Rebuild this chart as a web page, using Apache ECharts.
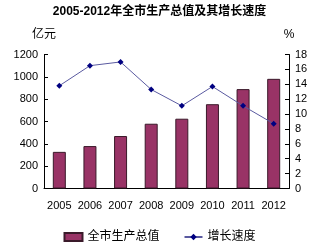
<!DOCTYPE html>
<html><head><meta charset="utf-8">
<script src="https://cdn.jsdelivr.net/npm/echarts@6/dist/echarts.min.js"></script>
<style>html,body{margin:0;padding:0;background:#fff}#c{width:319px;height:251px}</style>
</head><body><div id="c"></div>
<script>
const categories = ['2005','2006','2007','2008','2009','2010','2011','2012'];
const gdpValues = [328, 380, 470, 580, 625, 755, 890, 982];
const growthValues = [13.8, 16.5, 17.0, 13.3, 11.1, 13.7, 11.1, 8.7];
const leftTicks = [0, 1200, 200];
const rightTicks = [0, 18, 2];

const chart = echarts.init(document.getElementById('c'));
const font = 'Arial, "Noto Sans CJK SC", sans-serif';
chart.setOption({
  animation: false,
  textStyle: {fontFamily: font},
  title: {text: '2005-2012年全市生产总值及其增长速度', left: 'center', top: 1,
    textStyle: {fontSize: 12, fontWeight: 'bold', color: '#000', fontFamily: font}},
  grid: {left: 44, right: 30, top: 54.5, bottom: 62.5},
  legend: {bottom: 3, left: 'center', itemGap: 24, itemWidth: 18, itemHeight: 8,
    textStyle: {fontSize: 12, color: '#000', fontFamily: font},
    data: [{name: '全市生产总值', icon: 'rect'}, {name: '增长速度'}]},
  xAxis: {type: 'category', data: categories,
    axisLine: {lineStyle: {color: '#000'}},
    axisTick: {inside: true, length: 3, lineStyle: {color: '#000'}},
    axisLabel: {color: '#000', fontSize: 11, margin: 12, interval: 0}},
  yAxis: [
    {type: 'value', min: leftTicks[0], max: leftTicks[1], interval: leftTicks[2],
      name: '亿元', nameLocation: 'end', nameGap: 14, nameTextStyle: {color: '#000', fontSize: 12, align: 'center'},
      splitLine: {show: false},
      axisLine: {show: true, lineStyle: {color: '#000'}},
      axisTick: {show: true, inside: true, length: 4, lineStyle: {color: '#000'}},
      axisLabel: {color: '#000', fontSize: 11, margin: 6, formatter: v => String(v)}},
    {type: 'value', min: rightTicks[0], max: rightTicks[1], interval: rightTicks[2],
      name: '%', nameLocation: 'end', nameGap: 14, nameTextStyle: {color: '#000', fontSize: 12, align: 'center'},
      splitLine: {show: false},
      axisLine: {show: true, lineStyle: {color: '#000'}},
      axisTick: {show: true, inside: true, length: 4, lineStyle: {color: '#000'}},
      axisLabel: {color: '#000', fontSize: 11, margin: 6, formatter: v => String(v)}}
  ],
  series: [
    {name: '全市生产总值', type: 'bar', data: gdpValues, barWidth: 13, yAxisIndex: 0,
      itemStyle: {color: '#993366', borderColor: '#3a1a2a', borderWidth: 1}},
    {name: '增长速度', type: 'line', data: growthValues, yAxisIndex: 1,
      symbol: 'diamond', symbolSize: 6,
      lineStyle: {color: '#5a5aa0', width: 1},
      itemStyle: {color: '#000080'}}
  ]
});
</script></body></html>
